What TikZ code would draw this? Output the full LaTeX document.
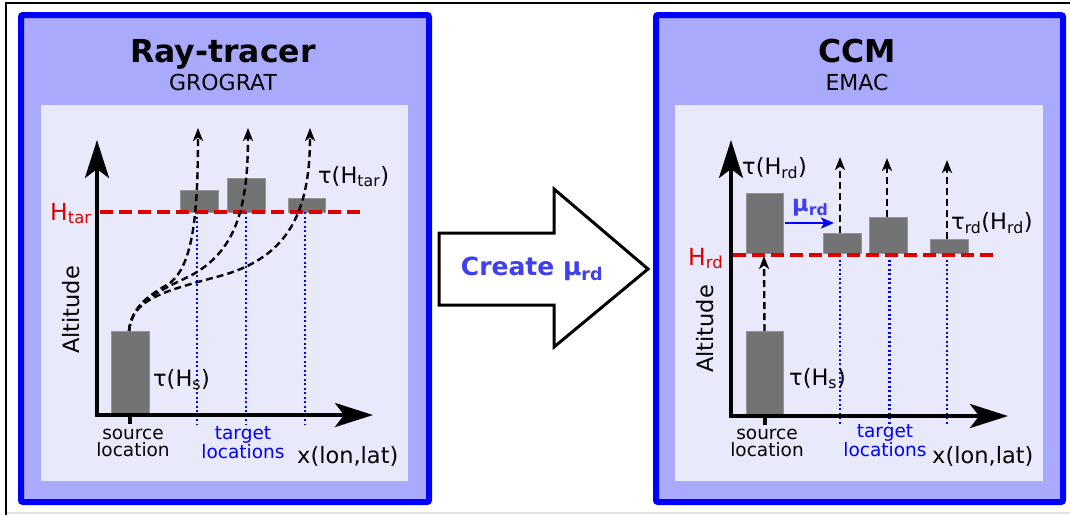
\documentclass[tikz,border=0pt]{standalone}
\usepackage{fontspec}
\setmainfont{DejaVu Sans}
\usetikzlibrary{positioning,calc,arrows.meta}

\definecolor{panelfill}{RGB}{170,170,252}
\definecolor{plotfill}{RGB}{233,233,252}
\definecolor{bargray}{RGB}{115,115,115}
\definecolor{levelred}{RGB}{220,0,0}
\definecolor{createblue}{RGB}{64,64,238}
\newcommand{\lowidx}[1]{\textsubscript{#1}}

\begin{document}
\begin{tikzpicture}
      [x=1pt,y=-1pt,
      panel/.style={draw=blue,line width=6pt,fill=panelfill,rounded corners=2pt},
      plot/.style={fill=plotfill},
      bar/.style={draw=bargray!75!white,fill=bargray,line width=1pt,inner sep=0,outer sep=0,anchor=south west},
      axis/.style={line width=4pt,line join=miter,{Stealth[length=38pt,width=24pt,inset=9pt]}-{Stealth[length=38pt,width=24pt,inset=9pt]}},
      ray/.style={line width=2.4pt,dash pattern=on 7pt off 4pt,-{Stealth[length=13pt,width=10pt,inset=3.5pt]}},
      level/.style={levelred,line width=4pt,dash pattern=on 13pt off 6pt},
      target/.style={blue,line width=2pt,dash pattern=on 2pt off 2.5pt},
      lbl/.style={inner sep=0,font=\fontsize{22.5}{24}\selectfont},
      loc/.style={inner sep=0,align=center,font=\fontsize{18.5}{17}\selectfont},
      title/.style={inner sep=0,anchor=base,font=\fontsize{31.5}{34}\selectfont\bfseries},
      subtitle/.style={inner sep=0,anchor=base,font=\fontsize{22}{24}\selectfont}]
     \useasboundingbox (0,0) rectangle (1070,515);
     % frame
     \draw[black,line width=2pt] (6,515) -- (6,2.5) -- (1070,2.5);
     \draw[black!12,line width=1.5pt] (7,513) -- (1070,513);

     % ray-tracer panel
     \draw[panel] (21,15) rectangle (429,502);
     \fill[plot] (41,105) rectangle (408,481);
     \node[title] (rtitle) at (223,62) {Ray-tracer};
     \node[subtitle] (rsub) at (223,90) {GROGRAT};
     \node[bar,minimum width=38pt,minimum height=84pt] (rsrc) at (111,415) {};
     \node[bar,minimum width=38pt,minimum height=22pt] (rb1) at (180,212) {};
     \node[bar,minimum width=38pt,minimum height=34pt] (rb2) at (227,212) {};
     \node[bar,minimum width=37pt,minimum height=14pt] (rb3) at (288,212) {};
     \coordinate (rd1) at (197,212);
     \coordinate (rd2) at (246,212);
     \coordinate (rd3) at (305,212);
     \foreach \i in {1,2,3} \draw[target] (rd\i) -- ++(0,213);
     \coordinate (rlev0) at (100,212);
     \coordinate (rlev1) at (362,212);
     \draw[level] (rlev0) -- (rlev1);
     \coordinate (ro) at (97,415);
     \coordinate (ry) at (97,140);
     \coordinate (rx) at (373,415);
     \draw[axis] (ry) -- (ro) -- (rx);
     \draw[line width=4pt] (rsrc.south) -- ++(0,9);
     % rays
     \coordinate (rs) at (129,331);
     \coordinate (rt1) at (198,128);
     \coordinate (rt2) at (248,128);
     \coordinate (rt3) at (310,128);
     \draw[ray] (rs) .. controls (132,305) and (150,295) .. (170,283) .. controls (192,265) and (198,220) .. (rt1);
     \draw[ray] (rs) .. controls (132,305) and (150,295) .. (190,276) .. controls (235,252) and (248,210) .. (rt2);
     \draw[ray] (rs) .. controls (132,300) and (160,292) .. (220,276) .. controls (290,257) and (310,210) .. (rt3);
     \node[lbl,anchor=base west,text=levelred,font=\fontsize{23.5}{24}\selectfont] (rhtar) at (50,220) {H\lowidx{tar}};
     \node[lbl,anchor=base west] (rtautar) at (318,183) {τ(H\lowidx{tar})};
     \node[lbl,anchor=base west] (rtaus) at (153,386) {τ(H\lowidx{s})};
     \node[lbl,rotate=90] (ralt) at (71,310) {Altitude};
     \node[loc] (rsrclbl) at (133,443) {source\\location};
     \node[loc,text=blue] (rtgtlbl) at (243,443) {target\\locations};
     \node[lbl,anchor=base west] (rxlbl) at (297,463) {x(lon,lat)};

     % block arrow
     \draw[line width=3pt,fill=white,line join=miter] (439,233) -- (554,233) -- (554,189) -- (648,269) -- (554,347) -- (554,305) -- (439,305) -- cycle;
     \node[inner sep=0,text=createblue,font=\fontsize{25}{27}\selectfont\bfseries] (create) at (532,269) {Create μ\lowidx{rd}};

     % ccm panel
     \draw[panel] (656,15) rectangle (1063,502);
     \fill[plot] (675,105) rectangle (1043,481);
     \node[title] (ctitle) at (857,62) {CCM};
     \node[subtitle] (csub) at (857,90) {EMAC};
     \node[bar,minimum width=37pt,minimum height=85pt] (csrc) at (746,416) {};
     \node[bar,minimum width=37pt,minimum height=60pt] (cup) at (746,253) {};
     \node[bar,minimum width=38pt,minimum height=20pt] (cb1) at (823,253) {};
     \node[bar,minimum width=38pt,minimum height=36pt] (cb2) at (869,253) {};
     \node[bar,minimum width=38pt,minimum height=14pt] (cb3) at (930,253) {};
     \coordinate (cd1) at (840,255);
     \coordinate (cd2) at (889,255);
     \coordinate (cd3) at (947,255);
     \draw[target] (cd1) -- ++(0,170);
     \draw[target,line width=3pt] (cd2) -- ++(0,170);
     \draw[target] (cd3) -- ++(0,170);
     \coordinate (clev0) at (733,255);
     \coordinate (clev1) at (997,255);
     \draw[level] (clev0) -- (clev1);
     \coordinate (co) at (731,416);
     \coordinate (cy) at (731,140);
     \coordinate (cx) at (1008,416);
     \draw[axis] (cy) -- (co) -- (cx);
     \draw[line width=4pt] (csrc.south) -- ++(0,9);
     % vertical transport
     \coordinate (ctop0) at (764,256);
     \coordinate (ctop1) at (840,157);
     \coordinate (ctop2) at (887,158);
     \coordinate (ctop3) at (947,160);
     \draw[ray] (csrc.north) -- (ctop0);
     \draw[ray] (cb1.north -| ctop1) -- (ctop1);
     \draw[ray] (cb2.north -| ctop2) -- (ctop2);
     \draw[ray] (cb3.north -| ctop3) -- (ctop3);
     \coordinate (cmu0) at (785,223);
     \coordinate (cmu1) at (834,223);
     \draw[blue,line width=2.5pt,-{Stealth[length=13pt,width=11pt,inset=3pt]}] (cmu0) -- (cmu1);
     \node[inner sep=0,anchor=base west,text=createblue,font=\fontsize{22.5}{24}\selectfont\bfseries] (cmu) at (792,211) {μ\lowidx{rd}};
     \node[lbl,anchor=base west] (ctaurd) at (742,174) {τ(H\lowidx{rd})};
     \node[lbl,anchor=base west] (ctaurdrd) at (951,229) {τ\lowidx{rd}(H\lowidx{rd})};
     \node[lbl,anchor=base west,text=levelred,font=\fontsize{23.5}{24}\selectfont] (chrd) at (688,265) {H\lowidx{rd}};
     \node[lbl,anchor=base west] (ctaus) at (789,385) {τ(H\lowidx{s})};
     \node[lbl,rotate=90] (calt) at (705,329) {Altitude};
     \node[loc] (csrclbl) at (767,443) {source\\location};
     \node[loc,text=blue] (ctgtlbl) at (885,441) {target\\locations};
     \node[lbl,anchor=base west] (cxlbl) at (932,463) {x(lon,lat)};
    \end{tikzpicture}
\end{document}
